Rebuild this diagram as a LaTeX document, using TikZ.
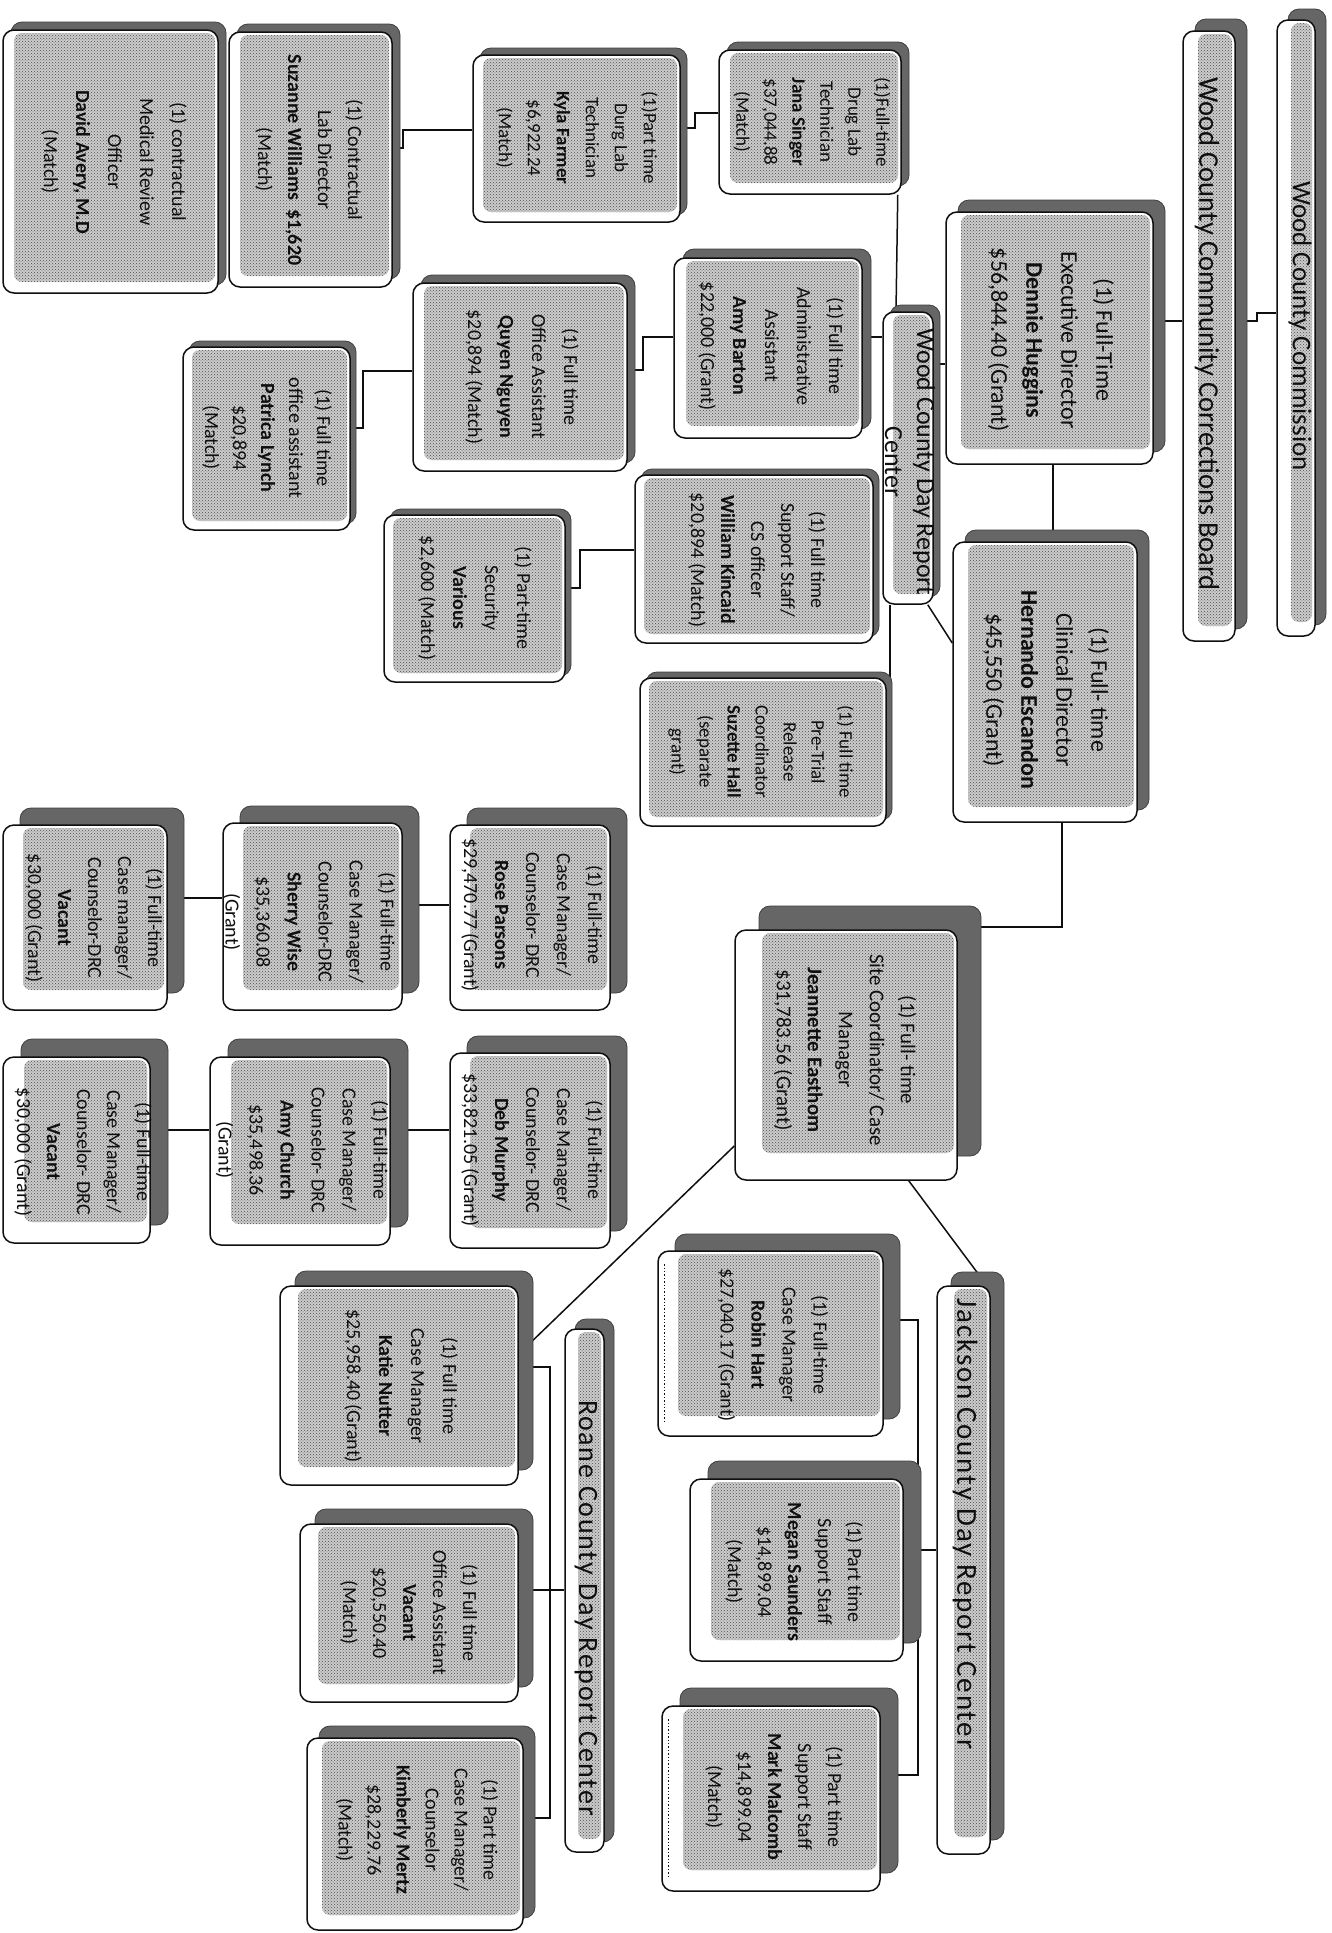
\documentclass[tikz,border=0pt]{standalone}
\usepackage{fontspec}
\setmainfont{Carlito}
\usetikzlibrary{shadows,patterns,calc}
\pgfdeclarelayer{bg}
\pgfsetlayers{bg,main}
\definecolor{shcol}{gray}{0.40}
\definecolor{stipfill}{gray}{0.80}
\definecolor{stipdot}{gray}{0.30}
\definecolor{ink}{gray}{0.06}
\tikzset{
  obox/.style={draw=ink, line width=1.5pt, fill=white, rounded corners=11pt, inner sep=0pt,
    general shadow={fill=shcol, draw=ink!80, line width=0.8pt, shadow xshift=#1pt, shadow yshift=#1pt},
    path picture={
      \path[fill=stipfill, rounded corners=8pt, postaction={pattern=crosshatch dots, pattern color=stipdot}]
        ([xshift=#1pt+3pt, yshift=#1pt+3pt]path picture bounding box.south west) rectangle
        ([xshift=-3pt, yshift=-3pt]path picture bounding box.north east);
    }},
  obox/.default=9,
  txt/.style={rotate=-90, align=center, inner sep=0pt, text=ink, font=\fontsize{20}{31}\selectfont},
  conn/.style={draw=ink, line width=1.5pt},
  dotedge/.style={draw=ink, line width=1.4pt, dotted},
}
\newcommand\orgbox[6]{\node[obox=#2, minimum width={(#5-#3)*1pt}, minimum height={(#6-#4)*1pt}] (#1) at ({(#3+#5)/2},{(#4+#6)/2}) {};}
\begin{document}
\begin{tikzpicture}[x=1pt,y=-1pt]
\begin{pgfonlayer}{bg}
\fill[white] (0,0) rectangle (1331,1933);
\end{pgfonlayer}
\useasboundingbox (0,0) rectangle (1331,1933);

% ---------- top level ----------
\orgbox{comm}{11}{1277}{20}{1315}{636}
\node[txt, font=\fontsize{27}{30}\selectfont] (commt) at (1300,326) {Wood County Commission};
\orgbox{board}{12}{1183}{31}{1235}{641}
\node[txt, font=\fontsize{28.5}{30}\selectfont] (boardt) at (1207,334) {Wood County Community Corrections Board};
\orgbox{exec}{12}{946}{212}{1153}{464}
\node[txt, font=\fontsize{24}{35}\selectfont] (exect) at (1051,340) {(1) Full-Time\\Executive Director\\\textbf{Dennie Huggins}\\\$56,844.40 (Grant)};
\orgbox{clin}{12}{953}{542}{1137}{822}
\node[txt, font=\fontsize{24}{35}\selectfont] (clint) at (1046,690) {(1) Full- time\\Clinical Director\\\textbf{Hernando Escandon}\\\$45,550 (Grant)};
\orgbox{drc}{7}{883}{312}{933}{604}
\node[txt, font=\fontsize{26}{32}\selectfont] (drct) at (910,462) {Wood County Day Report\\Center};

% ---------- lab ----------
\orgbox{jana}{8}{719}{50}{901}{194}
\node[txt, font=\fontsize{19}{28}\selectfont] (janat) at (812,122) {(1)Full-time\\Drug Lab\\Technician\\\textbf{Jana Singer}\\\$37,044.88\\(Match)};
\orgbox{kyla}{7}{473}{55}{680}{222}
\node[txt, font=\fontsize{19}{29}\selectfont] (kylat) at (577,138) {(1)Part time\\Durg Lab\\Technician\\\textbf{Kyla Farmer}\\\$6,922.24\\(Match)};
\orgbox{lab}{8}{229}{32}{392}{287}
\node[txt, font=\fontsize{20}{30}\selectfont] (labt) at (309,160) {(1) Contractual\\Lab Director\\\textbf{Suzanne Williams\ \ \$1,620}\\(Match)};
\orgbox{mro}{8}{3}{30}{218}{293}
\node[txt, font=\fontsize{20}{32}\selectfont] (mrot) at (114,162) {(1) contractual\\Medical Review\\Officer\\\textbf{David Avery, M.D}\\(Match)};

% ---------- office ----------
\orgbox{amyb}{9}{674}{258}{862}{438}
\node[txt, font=\fontsize{20}{32}\selectfont] (amybt) at (771,346) {(1) Full time\\Administrative\\Assistant\\\textbf{Amy Barton}\\\$22,000 (Grant)};
\orgbox{quyen}{8}{413}{283}{627}{471}
\node[txt, font=\fontsize{20}{32}\selectfont] (quyent) at (522,377) {(1) Full time\\Office Assistant\\\textbf{Quyen Nguyen}\\\$20,894 (Match)};
\orgbox{patrica}{6}{183}{347}{350}{530}
\node[txt, font=\fontsize{20}{28}\selectfont] (patricat) at (267,438) {(1) Full time\\office assistant\\\textbf{Patrica Lynch}\\\$20,894\\(Match)};
\orgbox{kinc}{6}{635}{475}{873}{643}
\node[txt, font=\fontsize{20}{30}\selectfont] (kinct) at (757,560) {(1) Full time\\Support Staff/\\CS officer\\\textbf{William Kincaid}\\\$20,894 (Match)};
\orgbox{secur}{6}{384}{515}{565}{682}
\node[txt, font=\fontsize{20}{32}\selectfont] (secart) at (475,598) {(1) Part-time\\Security\\\textbf{Various}\\\$2,600 (Match)};
\orgbox{pretr}{6}{640}{678}{886}{826}
\node[txt, font=\fontsize{19}{28}\selectfont] (pretrt) at (761,752) {(1) Full time\\Pre-Trial\\Release\\Coordinator\\\textbf{Suzette Hall}\\(separate\\grant)};

% ---------- site / counselors ----------
\orgbox{site}{24}{735}{930}{957}{1180}
\node[txt, font=\fontsize{21}{31}\selectfont] (sitet) at (845,1050) {(1) Full- time\\Site Coordinator/ Case\\Manager\\\textbf{Jeannette Easthom}\\\$31,783.56 (Grant)};
\orgbox{rose}{17}{450}{825}{610}{1010}
\node[txt] (roset) at (532,915) {(1) Full-time\\Case Manager/\\Counselor- DRC\\\textbf{Rose Parsons}\\\$29,470.77 (Grant)};
\orgbox{sherry}{17}{223}{823}{402}{1010}
\node[txt] (sherryt) at (309,922) {(1) Full-time\\Case Manager/\\Counselor-DRC\\\textbf{Sherry Wise}\\\$35,360.08\\(Grant)};
\orgbox{vaca}{17}{3}{825}{167}{1010}
\node[txt, font=\fontsize{20}{30}\selectfont] (vacat) at (94,918) {(1) Full-time\\Case manager/\\Counselor-DRC\\\textbf{Vacant}\\\$30,000 (Grant)};
\orgbox{deb}{17}{450}{1053}{610}{1248}
\node[txt] (debt) at (532,1150) {(1) Full-time\\Case Manager/\\Counselor- DRC\\\textbf{Deb Murphy}\\\$33,821.05 (Grant)};
\orgbox{amyc}{18}{210}{1057}{390}{1245}
\node[txt] (amyct) at (302,1150) {(1) Full-time\\Case Manager/\\Counselor- DRC\\\textbf{Amy Church}\\\$35,498.36\\(Grant)};
\orgbox{vacb}{18}{3}{1057}{150}{1243}
\node[txt, font=\fontsize{20}{30}\selectfont] (vacbt) at (83,1152) {(1) Full-time\\Case Manager/\\Counselor- DRC\\\textbf{Vacant}\\\$30,000 (Grant)};

% ---------- Jackson ----------
\orgbox{jack}{14}{937}{1286}{990}{1854}
\node[txt, font=\fontsize{29}{30}\selectfont\addfontfeatures{LetterSpace=6}] (jackt) at (965,1524) {Jackson County Day Report Center};
\orgbox{robin}{17}{658}{1251}{883}{1436}
\node[txt] (robint) at (773,1345) {(1) Full-time\\Case Manager\\\textbf{Robin Hart}\\\$27,040.17 (Grant)};
\orgbox{megan}{18}{690}{1479}{903}{1661}
\node[txt, font=\fontsize{20}{30}\selectfont] (megant) at (794,1572) {(1) Part time\\Support Staff\\\textbf{Megan Saunders}\\\$14,899.04\\(Match)};
\orgbox{mark}{18}{662}{1706}{880}{1891}
\node[txt, font=\fontsize{20}{30}\selectfont] (markt) at (774,1797) {(1) Part time\\Support Staff\\\textbf{Mark Malcomb}\\\$14,899.04\\(Match)};

% ---------- Roane ----------
\orgbox{roane}{10}{565}{1329}{604}{1852}
\node[txt, font=\fontsize{28}{30}\selectfont\addfontfeatures{LetterSpace=6}] (roanet) at (586,1608) {Roane County Day Report Center};
\orgbox{katie}{15}{280}{1286}{518}{1485}
\node[txt, font=\fontsize{20}{32}\selectfont] (katiet) at (401,1386) {(1) Full time\\Case Manager\\\textbf{Katie Nutter}\\\$25,958.40 (Grant)};
\orgbox{office}{15}{300}{1524}{518}{1702}
\node[txt, font=\fontsize{20}{30}\selectfont] (officet) at (409,1613) {(1) Full time\\Office Assistant\\\textbf{Vacant}\\\$20,550.40\\(Match)};
\orgbox{kim}{12}{307}{1738}{523}{1930}
\node[txt, font=\fontsize{20}{29}\selectfont] (kimt) at (417,1830) {(1) Part time\\Case Manager/\\Counselor\\\textbf{Kimberly Mertz}\\\$28,229.76\\(Match)};

% dotted left edges seen on two boxes
\draw[dotedge] ([xshift=7pt,yshift=-14pt]robin.north west) -- ([xshift=7pt,yshift=14pt]robin.south west);
\draw[dotedge] ([xshift=7pt,yshift=-14pt]mark.north west) -- ([xshift=7pt,yshift=14pt]mark.south west);

% ---------- connectors ----------
\begin{pgfonlayer}{bg}
\draw[conn] (exec.east |- 0,321) -- (board.west |- 0,321);
\draw[conn] (board.east |- 0,321) -- (1257,321) -- (1257,313) -- (comm.west |- 0,313);
\draw[conn] (drc.east |- 0,364) -- (exec.west |- 0,364);
\draw[conn] (1053,0 |- exec.south) -- (1053,0 |- clin.north);
\draw[conn] ([xshift=-6pt]drc.south east) -- (clin.west |- 0,643);
\draw[conn] ([xshift=-4pt]jana.south east) -- (896,0 |- drc.north);
\draw[conn] (jana.west |- 0,113) -- (695,113) -- (695,128) -- (kyla.east |- 0,128);
\draw[conn] (kyla.west |- 0,130) -- (403,130) -- (403,148) -- (lab.east |- 0,148);
\draw[conn] (amyb.east |- 0,337) -- (drc.west |- 0,337);
\draw[conn] (amyb.west |- 0,337) -- (643,337) -- (643,370) -- (quyen.east |- 0,370);
\draw[conn] (quyen.west |- 0,371) -- (363,371) -- (363,428) -- (patrica.east |- 0,428);
\draw[conn] (kinc.west |- 0,550) -- (580,550) -- (580,588) -- (secur.east |- 0,588);
\draw[conn] (890,0 |- drc.south) -- (890,0 |- pretr.north);
\draw[conn] (1062,0 |- clin.south) -- (1062,927) -- (site.east |- 0,927);
\draw[conn] ([xshift=-49pt]site.south east) -- ([xshift=-4pt]jack.north east);
\draw[conn] (site.west |- 0,1146) -- (katie.east |- 0,1354);
\draw[conn] (katie.east |- 0,1367) -- (550,1367) -- (550,1818) -- (kim.east |- 0,1818);
\draw[conn] (office.east |- 0,1590) -- (roane.west |- 0,1590);
\draw[conn] (robin.east |- 0,1320) -- (918,1320) -- (918,1775) -- (mark.east |- 0,1775);
\draw[conn] (megan.east |- 0,1550) -- (jack.west |- 0,1550);
\draw[conn] (sherry.east |- 0,905) -- (rose.west |- 0,905);
\draw[conn] (vaca.east |- 0,898) -- (sherry.west |- 0,898);
\draw[conn] (amyc.east |- 0,1130) -- (deb.west |- 0,1130);
\draw[conn] (vacb.east |- 0,1130) -- (amyc.west |- 0,1130);
\end{pgfonlayer}
\end{tikzpicture}
\end{document}
